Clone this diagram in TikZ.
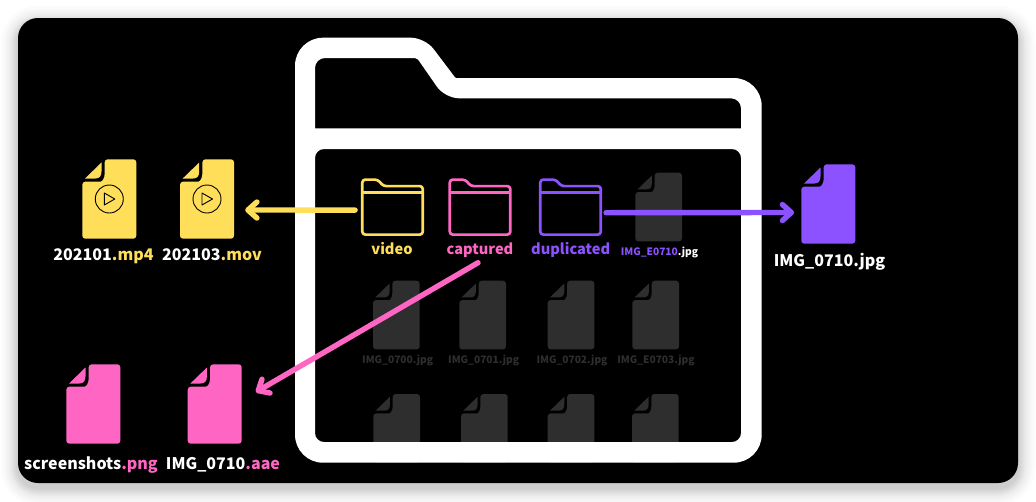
\documentclass[tikz,border=0pt]{standalone}
\usepackage{fontspec}
\setmainfont{Noto Sans CJK SC}
\usetikzlibrary{arrows.meta}
\definecolor{yellowc}{HTML}{FFDE59}
\definecolor{pinkc}{HTML}{FF66C4}
\definecolor{purplec}{HTML}{8C52FF}
\definecolor{darkc}{HTML}{2E2E2E}
\tikzset{
  biglabel/.style={anchor=base,text=white,font=\fontsize{16}{16}\selectfont\bfseries,inner sep=0},
  folderlabel/.style={anchor=base,font=\fontsize{14.6}{15}\selectfont\bfseries,inner sep=0},
  smalllabel/.style={anchor=base,text=darkc,font=\fontsize{10.2}{11}\selectfont\bfseries,inner sep=0},
  arrowline/.style={line width=5.4,line cap=round,-{Straight Barb[length=9,width=16,round]}},
  pics/fileicon/.style={code={
    \fill[#1,rounded corners=3] (0,22.4) -- (15,22.4) [sharp corners] .. controls (20,22.4) and (22.4,19) .. (22.4,14)
      [rounded corners=3] -- (22.4,0) -- (54,0) -- (54,79.4) -- (0,79.4) -- cycle;
    \fill[#1] (2.7,19.2) -- (19.2,3.2) -- (19.2,12) .. controls (19.2,17) and (17,19.2) .. (13,19.2) -- cycle;
    \node[transform shape,inner sep=0,minimum width=54,minimum height=79.4] (-box) at (27,39.7) {};
  }},
  pics/playmark/.style={code={
    \draw[black,line width=.9] (0,0) circle (14);
    \draw[black,line width=.9,line join=round] (-5,-6) -- (5.5,0) -- (-5,6) -- cycle;
  }},
  pics/smallfolder/.style={code={
    \draw[#1,line width=2.7,rounded corners=3,line join=round] (0,0) -- (15.5,0) -- (21,6.5) -- (60.5,6.5) -- (60.5,55) -- (0,55) -- cycle;
    \draw[#1,line width=2.7] (0,12.6) -- (60.5,12.6);
    \node[inner sep=0,minimum width=60.5,minimum height=55] (-box) at (30.25,27.5) {};
  }}
}
\begin{document}
\begin{tikzpicture}[x=1pt,y=-1pt]
  \useasboundingbox (0,0) rectangle (1036,501);
  \fill[white] (0,0) rectangle (1036,501);
  % soft shadow of the card
  \foreach \grow in {1,2,3,4,5,6,7,8,10,12,14,17}
    \fill[black,opacity=.017,rounded corners=20+\grow] (18-\grow,23-\grow) rectangle (1018+\grow,488+\grow);
  \fill[black,rounded corners=20] (18,18) rectangle (1018,483);

  % greyed files inside the folder
  \pic[scale=.865] (e0710) at (635.3,172.7) {fileicon=darkc};
  \pic[scale=.865] (a0) at (373,280.7) {fileicon=darkc};
  \pic[scale=.865] (a1) at (459.3,280.7) {fileicon=darkc};
  \pic[scale=.865] (a2) at (547.7,280.7) {fileicon=darkc};
  \pic[scale=.865] (a3) at (632.3,280.7) {fileicon=darkc};
  \pic[scale=.865] (b0) at (373.3,394) {fileicon=darkc};
  \pic[scale=.865] (b1) at (461,394) {fileicon=darkc};
  \pic[scale=.865] (b2) at (547.7,394) {fileicon=darkc};
  \pic[scale=.865] (b3) at (632,394) {fileicon=darkc};
  \node[smalllabel] (a0label) at (397.7,363.3) {IMG\_0700.jpg};
  \node[smalllabel] (a1label) at (483.7,363.3) {IMG\_0701.jpg};
  \node[smalllabel] (a2label) at (572,363.3) {IMG\_0702.jpg};
  \node[smalllabel] (a3label) at (656,363.3) {IMG\_E0703.jpg};

  % big folder
  \fill[white,even odd rule]
    [rounded corners=28] (295,200) -- (295,37.7) [rounded corners=14] -- (425,37.7) [rounded corners=1] -- (455.5,78)
    [rounded corners=28] -- (761.7,78) -- (761.7,462.7) -- (295,462.7) -- cycle
    [rounded corners=10] (315,128.3) -- (315,58) [rounded corners=2] -- (417,58) [rounded corners=14] -- (445,98.3)
    [rounded corners=10] -- (741,98.3) [sharp corners] -- (741,128.3) -- cycle
    [rounded corners=9] (315,149) rectangle (741,442);

  % folders and files
  \pic (video) at (362.3,179.6) {smallfolder=yellowc};
  \pic (captured) at (449.8,179.6) {smallfolder=pinkc};
  \pic (duplicated) at (540.3,179.6) {smallfolder=purplec};
  \pic (mp4) at (82.3,159.3) {fileicon=yellowc};
  \pic (mov) at (180,159.3) {fileicon=yellowc};
  \pic at (mp4-box.center) {playmark};
  \pic at (mov-box.center) {playmark};
  \pic (png) at (66.3,364.3) {fileicon=pinkc};
  \pic (aae) at (187.7,364.3) {fileicon=pinkc};
  \pic (jpg) at (801.3,164.3) {fileicon=purplec};

  \node[biglabel] (mp4label) at (103.5,260) {202101{\color{yellowc}.mp4}};
  \node[biglabel] (movlabel) at (212,260) {202103{\color{yellowc}.mov}};
  \node[folderlabel,text=yellowc] (videolabel) at (392,254) {video};
  \node[folderlabel,text=pinkc] (capturedlabel) at (480,254) {captured};
  \node[folderlabel,text=purplec] (duplicatedlabel) at (570.7,254) {duplicated};
  \node[smalllabel,text=white] (e0710label) at (659.5,255) {{\color{purplec}IMG\_E0710}.jpg};
  \node[biglabel] (pnglabel) at (91,469.3) {screenshots{\color{pinkc}.png}};
  \node[biglabel] (aaelabel) at (223,469.3) {IMG\_0710{\color{pinkc}.aae}};
  \node[biglabel] (jpglabel) at (829.5,266) {IMG\_0710.jpg};

  % arrows
  \draw[arrowline,yellowc] ([xshift=-7,yshift=-3]video-box.west) -- ([xshift=11,yshift=-11]mov-box.east);
  \draw[arrowline,purplec] ([xshift=5,yshift=-5.6]duplicated-box.east) -- ([xshift=-7,yshift=-8.5]jpg-box.west);
  \draw[arrowline,pinkc] ([xshift=-2,yshift=-5.5]capturedlabel.south) -- ([xshift=14,yshift=12]aae-box.east);
\end{tikzpicture}
\end{document}
